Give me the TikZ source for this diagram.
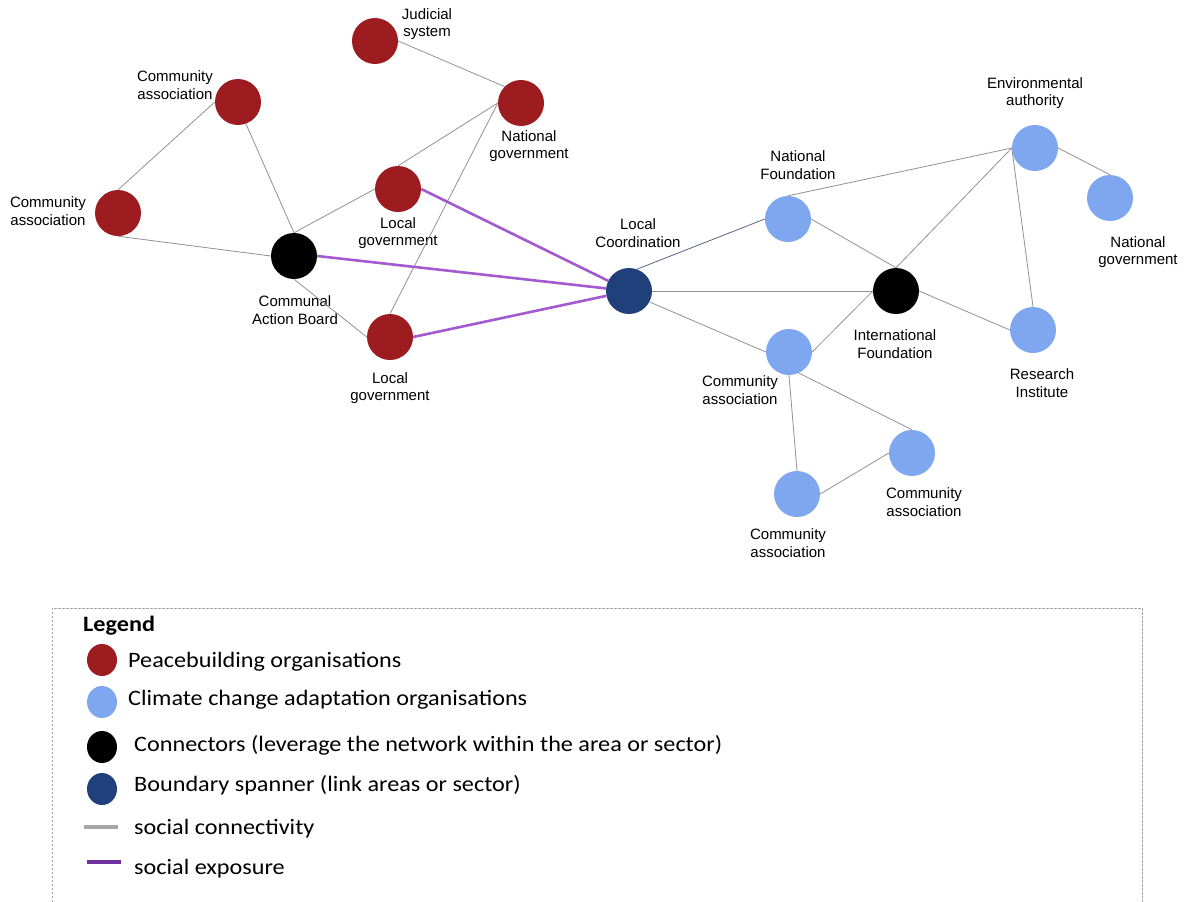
\documentclass[tikz,border=0pt]{standalone}
\usepackage{fontspec}
\usetikzlibrary{shapes.geometric}
\setmainfont{Liberation Sans}
\newfontfamily\legfont[FakeStretch=1.1]{Carlito}
\definecolor{pbred}{RGB}{157,28,31}
\definecolor{ccblue}{RGB}{127,167,240}
\definecolor{bsblue}{RGB}{31,64,122}
\definecolor{expo}{RGB}{163,90,208}
\definecolor{expoleg}{RGB}{112,48,160}
\definecolor{edgegray}{RGB}{145,145,145}
\definecolor{leggray}{RGB}{166,166,166}
\definecolor{slate}{RGB}{90,100,130}
\begin{document}
\begin{tikzpicture}[x=1pt,y=-1pt,
  org/.style={circle,minimum size=46pt,inner sep=0pt,draw=none},
  pb/.style={org,fill=pbred},
  cc/.style={org,fill=ccblue},
  conn/.style={org,fill=black},
  bs/.style={org,fill=bsblue},
  lbl/.style={align=center,inner sep=0pt,font=\fontsize{15}{17.5}\selectfont},
  edge/.style={draw=edgegray,line width=0.8pt},
  expoedge/.style={draw=expo,line width=2.6pt},
  legdot/.style={ellipse,minimum width=30pt,minimum height=32pt,inner sep=0pt},
  legtxt/.style={anchor=west,inner sep=0pt,font=\legfont\fontsize{22}{25}\selectfont},
]
\useasboundingbox (0,0) rectangle (1186,902);
% nodes
\node[pb] (jud) at (375,41) {};
\node[pb] (ngr) at (521,103) {};
\node[pb] (cat) at (238,102) {};
\node[pb] (lgu) at (398,189) {};
\node[pb] (cal) at (118,213) {};
\node[conn] (cab) at (294,256) {};
\node[pb] (lgl) at (390,337) {};
\node[bs] (lco) at (629,291) {};
\node[cc] (nf) at (788,219) {};
\node[cc] (env) at (1035,148) {};
\node[cc] (ngb) at (1110,198) {};
\node[conn] (inf) at (896,291) {};
\node[cc] (ri) at (1033,330) {};
\node[cc] (cam) at (789,352) {};
\node[cc] (car) at (912,453) {};
\node[cc] (cab2) at (797,494) {};
% labels
\node[lbl] (tjud) at (427,24) {Judicial\\system};
\node[lbl] (tngr) at (529,146) {National\\government};
\node[lbl] (tcat) at (175,85) {Community\\association};
\node[lbl] (tlgu) at (398,233) {Local\\government};
\node[lbl] (tcal) at (48,211) {Community\\association};
\node[lbl] (tcab) at (295,310) {Communal\\Action Board};
\node[lbl] (tlgl) at (390,388) {Local\\government};
\node[lbl] (tlco) at (638,233) {Local\\Coordination};
\node[lbl] (tnf) at (798,165) {National\\Foundation};
\node[lbl] (tenv) at (1035,93) {Environmental\\authority};
\node[lbl] (tngb) at (1138,252) {National\\government};
\node[lbl] (tinf) at (895,344) {International\\Foundation};
\node[lbl] (tri) at (1042,383) {Research\\Institute};
\node[lbl] (tcam) at (740,390) {Community\\association};
\node[lbl] (tcar) at (924,502) {Community\\association};
\node[lbl] (tcab2) at (788,543) {Community\\association};
% edges
\draw[edge] (jud.east) -- (ngr.north west);
\draw[edge] (cat.west) -- (cal.north);
\draw[edge] (cat.290) -- (cab.north);
\draw[edge] (ngr.west) -- (lgu.north);
\draw[edge] (ngr.west) -- (lgl.north);
\draw[edge] (lgu.west) -- (cab.north);
\draw[edge] (cab.west) -- (cal.south);
\draw[edge] (cab.south) -- (lgl.west);
\draw[expoedge] (lgu.east) -- (lco);
\draw[expoedge] (cab.east) -- (lco);
\draw[expoedge] (lgl.east) -- (lco);
\draw[edge,draw=slate] (lco.70) -- (nf.west);
\draw[edge] (lco.east) -- (inf.west);
\draw[edge] (lco.-28) -- (cam.west);
\draw[edge] (nf.north) -- (env.west);
\draw[edge] (nf.east) -- (inf.north);
\draw[edge] (env.west) -- (inf.north);
\draw[edge] (env.east) -- (ngb.north);
\draw[edge] (env.west) -- (ri.north);
\draw[edge] (inf.east) -- (ri.west);
\draw[edge] (inf.west) -- (cam.east);
\draw[edge] (cam.south) -- (cab2.north);
\draw[edge] (cam.-65) -- (car.north);
\draw[edge] (cab2.east) -- (car.west);
% legend
\draw[leggray,line width=0.8pt,dash pattern=on 2.5pt off 1.5pt] (52,930) -- (52,608) -- (1142,608) -- (1142,930);
\node[legtxt,font=\legfont\bfseries\fontsize{22}{25}\selectfont] (lgt) at (83,626) {Legend};
\node[legdot,fill=pbred] (l1) at (102,660) {};
\node[legtxt] (t1) at (128,662) {Peacebuilding organisations};
\node[legdot,fill=ccblue] (l2) at (102,702) {};
\node[legtxt] (t2) at (128,700) {Climate change adaptation organisations};
\node[legdot,fill=black] (l3) at (102,747) {};
\node[legtxt] (t3) at (134,745) {Connectors (leverage the network within the area or sector)};
\node[legdot,fill=bsblue] (l4) at (102,789) {};
\node[legtxt] (t4) at (134,785) {Boundary spanner (link areas or sector)};
\coordinate (g1) at (84,827);
\coordinate (g2) at (118,827);
\draw[leggray,line width=3.5pt] (g1) -- (g2);
\node[legtxt] (t5) at (134,829) {social connectivity};
\coordinate (p1) at (87,862);
\coordinate (p2) at (121,862);
\draw[expoleg,line width=3.5pt] (p1) -- (p2);
\node[legtxt] (t6) at (134,869) {social exposure};
\end{tikzpicture}
\end{document}
